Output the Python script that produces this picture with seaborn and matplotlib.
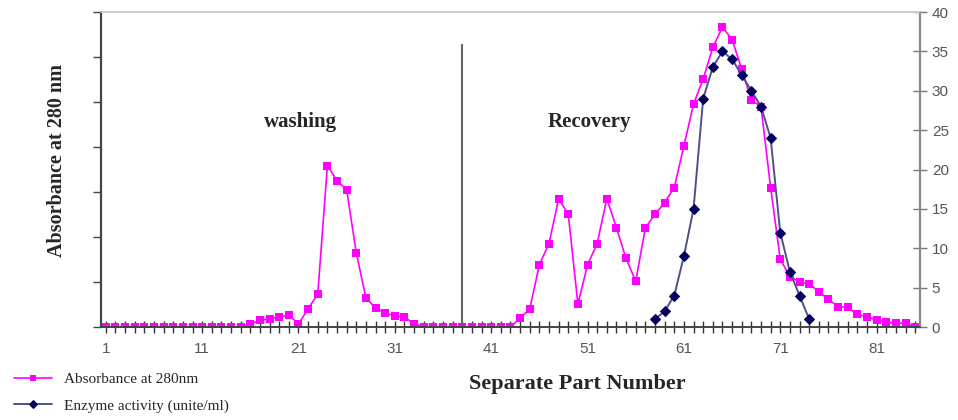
import numpy as np
import pandas as pd
import seaborn as sns
from matplotlib import pyplot as plt

# fraction numbers and readings
part_number = list(range(1, 86))
absorbance = [0] * 15 + [0.4, 0.85, 1.05, 1.27, 1.5, 0.4, 2.3, 4.2, 20.5, 18.6,
                         17.4, 9.4, 3.7, 2.4, 1.8, 1.4, 1.27, 0.4] + [0] * 10 + \
             [1.15, 2.3, 7.9, 10.6, 16.3, 14.3, 2.9, 7.9, 10.6, 16.3, 12.6, 8.7,
              5.8, 12.6, 14.3, 15.8, 17.7, 23.0, 28.3, 31.5, 35.5, 38.1, 36.5,
              32.75, 28.8, 28.0, 17.7, 8.6, 6.4, 5.7, 5.5, 4.5, 3.5, 2.6, 2.5,
              1.6, 1.3, 0.9, 0.6, 0.5, 0.5, 0]
enzyme_part = list(range(58, 75))
enzyme = [1, 2, 4, 9, 15, 29, 33, 35, 34, 32, 30, 28, 24, 12, 7, 4, 1]
tick_labels = [1, 11, 21, 31, 41, 51, 61, 71, 81]
divider_x = 38
divider_top = 36

sns.set_style("white")
plt.rcParams['font.family'] = ['Liberation Serif', 'DejaVu Serif']

abs_df = pd.DataFrame({"part": part_number, "value": absorbance})
enz_df = pd.DataFrame({"part": enzyme_part, "value": enzyme})

fig = plt.figure(figsize=(9.58, 4.2), dpi=100)
ax = fig.add_axes([0.1054, 0.2214, 0.8549, 0.75])
# left axis: unlabeled ticks only
ax_left = ax.twinx()

sns.lineplot(data=abs_df, x="part", y="value", ax=ax, color="#ff00ff",
             marker="s", markersize=6, markeredgewidth=0, linewidth=1.2,
             label="Absorbance at 280nm", legend=False)
sns.lineplot(data=enz_df, x="part", y="value", ax=ax, color="#50508a",
             marker="D", markersize=5, markerfacecolor="#000060",
             markeredgecolor="#000060", linewidth=1.4,
             label="Enzyme activity (unite/ml)", legend=False)

ax.vlines(divider_x, 0, divider_top, color="#666666", linewidth=1.5)

ax.set_xlim(0.5, 85.5)
ax.set_ylim(0, 40)
ax.set_xticks(tick_labels)
ax.set_xticks(part_number, minor=True)
ax.tick_params(axis="x", which="both", direction="inout", length=9,
               width=1, color="#333333", labelsize=11, labelcolor="#555555",
               pad=6, bottom=True)
for t in ax.get_xticklabels():
    t.set_family("Liberation Sans")

ax.yaxis.tick_right()
ax.set_yticks(range(0, 41, 5))
ax.tick_params(axis="y", direction="inout", length=10, width=1,
               color="#777777", labelsize=11, labelcolor="#555555",
               right=True, left=False, labelright=True, labelleft=False)
for t in ax.get_yticklabels():
    t.set_family("Liberation Sans")

ax_left.set_ylim(0, 7)
ax_left.yaxis.tick_left()
ax_left.set_yticks(range(0, 8))
ax_left.set_yticklabels([])
ax_left.tick_params(axis="y", direction="out", length=6, width=1,
                    color="#444444", left=True, right=False)

for a in (ax, ax_left):
    a.spines["left"].set_color("#444444")
    a.spines["left"].set_linewidth(1.5)
    a.spines["right"].set_color("#888888")
    a.spines["right"].set_linewidth(1.5)
    a.spines["bottom"].set_color("#444444")
    a.spines["bottom"].set_linewidth(1.2)
    a.spines["top"].set_color("#cccccc")
    a.spines["top"].set_linewidth(1.2)
    a.set_xlabel("")
    a.set_ylabel("")

ax.text(21.2, 25.4, "washing", fontsize=15, fontweight="bold", ha="center")
ax.text(51.2, 25.4, "Recovery", fontsize=15, fontweight="bold", ha="center")

fig.text(0.06, 0.619, "Absorbance at 280 nm", rotation=90, fontsize=14.5,
         fontweight="bold", ha="center", va="center")
fig.text(0.603, 0.086, "Separate Part Number", fontsize=16,
         fontweight="bold", ha="center", va="center")

handles, labels = ax.get_legend_handles_labels()
fig.legend(handles, labels, loc="lower left", bbox_to_anchor=(0.0, -0.015),
           frameon=False, fontsize=11, handlelength=2.5, handletextpad=0.8,
           labelspacing=0.8, markerscale=0.8)

plt.savefig("out.png", dpi=100)
plt.close(fig)
